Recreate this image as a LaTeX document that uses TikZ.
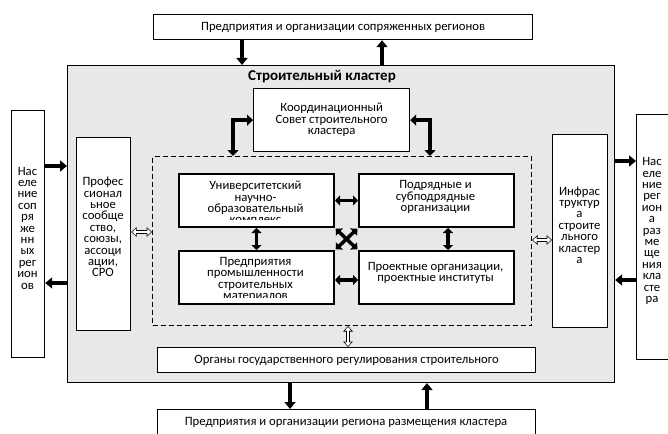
\documentclass[tikz,border=0pt]{standalone}
\usepackage{fontspec}
\setmainfont{Carlito}
\usetikzlibrary{arrows.meta,calc}
\definecolor{clgray}{RGB}{232,232,232}
\newcommand{\mytxt}{\fontsize{12.7}{11.4}\selectfont}
\begin{document}
\begin{tikzpicture}[x=1pt,y=-1pt,
  box/.style={draw, line width=1.2pt, fill=white, inner sep=0pt, anchor=north west, align=center, font=\mytxt},
  inbox/.style={draw, line width=2pt, fill=white, inner sep=0pt, anchor=north west, minimum width=155pt, minimum height=53pt},
  txt/.style={font=\mytxt, align=center, inner sep=0pt},
  bigarr/.style={line width=4pt, -{Triangle[width=11pt,length=7pt]}},
  dblarr/.style={line width=3.5pt, {Triangle[width=10pt,length=5pt]}-{Triangle[width=10pt,length=5pt]}},
  larr/.style={line width=4pt, line join=miter, {Triangle[width=11pt,length=6pt]}-{Triangle[width=11pt,length=6pt]}},
  hollow/.style={draw=white, line width=2.4pt, {Triangle[width=6.5pt,length=3.6pt]}-{Triangle[width=6.5pt,length=3.6pt]}, shorten <=1.1pt, shorten >=1.1pt,
     preaction={draw=black, line width=4.2pt, {Triangle[width=9.5pt,length=5.5pt]}-{Triangle[width=9.5pt,length=5.5pt]}, shorten <=0pt, shorten >=0pt}}
]
\useasboundingbox (0,0) rectangle (668,433);

% cluster
\node[draw, line width=1.1pt, fill=clgray, minimum width=547pt, minimum height=317pt, anchor=north west, inner sep=0pt] (cl) at (67,65) {};
\node[font=\bfseries\fontsize{15}{15}\selectfont, inner sep=0pt] (title) at (322,77) {Строительный кластер};

% outer boxes
\node[box, minimum width=379pt, minimum height=25pt] (top) at (153,14) {Предприятия и организации сопряженных регионов};
\node[box, minimum width=378pt, minimum height=40pt] (bot) at (157,409) {};
\node[txt] (bott) at (346,422) {Предприятия и организации региона размещения кластера};
\node[box, minimum width=33pt, minimum height=247pt] (lp) at (11,110) {};
\node[txt] (lpt) at (27.5,228) {Нас\\еле\\ние\\соп\\ря\\же\\нн\\ых\\рег\\ион\\ов};
\node[box, minimum width=36pt, minimum height=245pt] (rp) at (636,114) {};
\node[txt] (rpt) at (652,231) {Нас\\еле\\ние\\рег\\ион\\а\\раз\\ме\\ще\\ния\\кла\\сте\\ра};

% inside cluster
\node[box, minimum width=156pt, minimum height=63pt] (coord) at (253,88) {Координационный\\Совет строительного\\кластера};
\node[box, minimum width=54pt, minimum height=193pt] (prof) at (76,137) {};
\node[txt] (proft) at (103,227) {Профес\\сионал\\ьное\\сообще\\ство,\\союзы,\\ассоци\\ации,\\СРО};
\node[box, minimum width=55pt, minimum height=193pt] (infra) at (552,134) {};
\node[txt] (infrat) at (579.5,225) {Инфрас\\труктур\\а\\строите\\льного\\кластер\\а};
\node[draw, dashed, dash pattern=on 5pt off 3pt, line width=1pt, minimum width=379pt, minimum height=169pt, anchor=north west, inner sep=0pt] (dash) at (152,156) {};
\node[box, minimum width=378pt, minimum height=25pt] (gos) at (157,347) {Органы государственного регулирования строительного};

% inner four boxes
\node[inbox] (univ) at (178,173) {};
\node[inbox] (podr) at (358,173) {};
\node[inbox] (pred) at (178,250) {};
\node[inbox] (proj) at (358,250) {};
\begin{scope}
  \clip ($(univ.south west)+(1pt,9pt)$) rectangle ($(univ.north east)+(-1pt,-1pt)$);
  \node[txt, anchor=north] (univt) at (255.5,181) {Университетский\\научно-\\образовательный\\комплекс};
\end{scope}
\begin{scope}
  \clip ($(pred.south west)+(1pt,8pt)$) rectangle ($(pred.north east)+(-1pt,-1pt)$);
  \node[txt, anchor=north] (predt) at (255.5,257) {Предприятия\\промышленности\\строительных\\материалов};
\end{scope}
\node[txt] (podrt) at (435.5,197) {Подрядные и\\субподрядные\\организации};
\node[txt] (projt) at (435.5,273) {Проектные организации,\\проектные институты};

% coordinates for connectors
\coordinate (xa) at (242,0);
\coordinate (xb) at (382,0);
\coordinate (xc) at (290,0);
\coordinate (xd) at (427,0);
\coordinate (ya) at (0,166);
\coordinate (yb) at (0,283);
\coordinate (yc) at (0,161);
\coordinate (yd) at (0,280);
\coordinate (cL) at (233,156);
\coordinate (cR) at (430,156);
\coordinate (yh1) at (0,232);
\coordinate (yh2) at (0,240);
\coordinate (xh) at (348,0);
\coordinate (xv) at (448,0);
\coordinate (yi) at (0,280);

% outer arrows
\draw[bigarr] (top.south -| xa) -- (cl.north -| xa);
\draw[bigarr] (cl.north -| xb) -- (top.south -| xb);
\draw[bigarr] (cl.south -| xc) -- (bot.north -| xc);
\draw[bigarr] (bot.north -| xd) -- (cl.south -| xd);
\draw[bigarr] (lp.east |- ya) -- (cl.west |- ya);
\draw[bigarr] (cl.west |- yb) -- (lp.east |- yb);
\draw[bigarr] (cl.east |- yc) -- (rp.west |- yc);
\draw[bigarr] (rp.west |- yd) -- (cl.east |- yd);

% coordination L arrows
\draw[larr] (coord.west) -| (cL);
\draw[larr] (coord.east) -| (cR);

% hollow arrows
\draw[hollow] (prof.east |- yh1) -- (dash.west |- yh1);
\draw[hollow] (dash.east |- yh2) -- (infra.west |- yh2);
\draw[hollow] (dash.south -| xh) -- (gos.north -| xh);

% inner arrows
\draw[dblarr] (univ.east) -- (podr.west);
\draw[dblarr] (pred.east |- yi) -- (proj.west |- yi);
\draw[dblarr] (univ.south) -- (pred.north);
\draw[dblarr] (podr.south -| xv) -- (proj.north -| xv);
\draw[dblarr, shorten <=1pt, shorten >=1pt] (univ.south east) -- (proj.north west);
\draw[dblarr, shorten <=1pt, shorten >=1pt] (pred.north east) -- (podr.south west);
\end{tikzpicture}
\end{document}
